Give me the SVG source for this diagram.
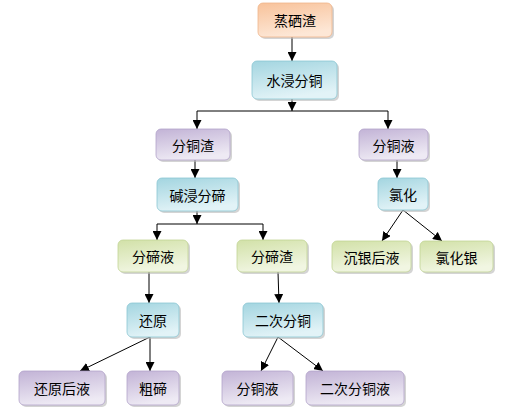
<svg xmlns="http://www.w3.org/2000/svg" width="509" height="414" viewBox="0 0 509 414">
<defs>
<linearGradient id="gO" x1="0" y1="0" x2="0.3" y2="1"><stop offset="0" stop-color="#f8c29a"/><stop offset="1" stop-color="#fde7d6"/></linearGradient>
<linearGradient id="gB" x1="0" y1="0" x2="0.3" y2="1"><stop offset="0" stop-color="#a3d5e0"/><stop offset="1" stop-color="#e2f3f7"/></linearGradient>
<linearGradient id="gP" x1="0" y1="0" x2="0.3" y2="1"><stop offset="0" stop-color="#c2b3d6"/><stop offset="1" stop-color="#eeeaf4"/></linearGradient>
<linearGradient id="gG" x1="0" y1="0" x2="0.3" y2="1"><stop offset="0" stop-color="#d2e1a8"/><stop offset="1" stop-color="#f1f6e2"/></linearGradient>
<marker id="ah" viewBox="0 0 10 10" refX="10" refY="5" markerWidth="9" markerHeight="9" markerUnits="userSpaceOnUse" orient="auto"><path d="M0,0 L10,5 L0,10 z" fill="#000"/></marker>
<style>
.sh{fill:#b8b8b8;opacity:0.6}
.o{fill:url(#gO);stroke:#f0b58a;stroke-width:0.8}
.b{fill:url(#gB);stroke:#8cc6d3;stroke-width:0.8}
.p{fill:url(#gP);stroke:#b3a3ca;stroke-width:0.8}
.g{fill:url(#gG);stroke:#c2d496;stroke-width:0.8}
text{font-family:"Noto Sans CJK SC","Noto Sans CJK JP",sans-serif;font-size:14px;fill:#000;text-anchor:middle;dominant-baseline:central}
.c{stroke:#000;stroke-width:1;fill:none}
.ca{stroke:#000;stroke-width:1;fill:none;marker-end:url(#ah)}
</style>
</defs>
<g id="connectors">
<line class="ca" x1="292" y1="37" x2="292" y2="61"/>
<line class="ca" x1="292" y1="99" x2="292" y2="111"/>
<line class="c" x1="197" y1="111" x2="388" y2="111"/>
<line class="ca" x1="197" y1="111" x2="197" y2="129"/>
<line class="ca" x1="388" y1="111" x2="388" y2="129"/>
<line class="ca" x1="195" y1="160" x2="195" y2="178"/>
<line class="ca" x1="397" y1="160" x2="397" y2="178"/>
<line class="ca" x1="197" y1="211" x2="197" y2="224"/>
<line class="c" x1="157" y1="224" x2="263" y2="224"/>
<line class="ca" x1="157" y1="224" x2="157" y2="240"/>
<line class="ca" x1="263" y1="224" x2="263" y2="240"/>
<line class="ca" x1="149" y1="272" x2="149" y2="303"/>
<line class="ca" x1="278" y1="272" x2="279" y2="303"/>
<line class="ca" x1="403" y1="210" x2="382" y2="241"/>
<line class="ca" x1="403" y1="210" x2="442" y2="241"/>
<line class="ca" x1="150" y1="337" x2="80" y2="371"/>
<line class="ca" x1="150" y1="337" x2="150" y2="371"/>
<line class="ca" x1="278" y1="337" x2="261" y2="371"/>
<line class="ca" x1="278" y1="337" x2="323" y2="371"/>
</g>
<g id="n1"><rect class="sh" x="260" y="5" width="74" height="34" rx="5"/><rect class="o" x="258" y="3" width="74" height="34" rx="5"/><text x="295" y="20">蒸硒渣</text></g>
<g id="n2"><rect class="sh" x="254" y="63" width="85" height="38" rx="5"/><rect class="b" x="252" y="61" width="85" height="38" rx="5"/><text x="294.5" y="80">水浸分铜</text></g>
<g id="n3"><rect class="sh" x="158" y="131" width="74" height="31" rx="5"/><rect class="p" x="156" y="129" width="74" height="31" rx="5"/><text x="193" y="144.5">分铜渣</text></g>
<g id="n4"><rect class="sh" x="361" y="131" width="69" height="31" rx="5"/><rect class="p" x="359" y="129" width="69" height="31" rx="5"/><text x="393.5" y="144.5">分铜液</text></g>
<g id="n5"><rect class="sh" x="159" y="180" width="81" height="33" rx="5"/><rect class="b" x="157" y="178" width="81" height="33" rx="5"/><text x="197.5" y="194.5">碱浸分碲</text></g>
<g id="n6"><rect class="sh" x="380" y="180" width="50" height="32" rx="5"/><rect class="b" x="378" y="178" width="50" height="32" rx="5"/><text x="403" y="194">氯化</text></g>
<g id="n7"><rect class="sh" x="120" y="242" width="70" height="32" rx="5"/><rect class="g" x="118" y="240" width="70" height="32" rx="5"/><text x="153" y="256">分碲液</text></g>
<g id="n8"><rect class="sh" x="239" y="242" width="70" height="32" rx="5"/><rect class="g" x="237" y="240" width="70" height="32" rx="5"/><text x="272" y="256">分碲渣</text></g>
<g id="n9"><rect class="sh" x="334" y="243" width="79" height="31" rx="5"/><rect class="g" x="332" y="241" width="79" height="31" rx="5"/><text x="371.5" y="256.5">沉银后液</text></g>
<g id="n10"><rect class="sh" x="422" y="243" width="73" height="31" rx="5"/><rect class="g" x="420" y="241" width="73" height="31" rx="5"/><text x="456.5" y="256.5">氯化银</text></g>
<g id="n11"><rect class="sh" x="129" y="305" width="52" height="34" rx="5"/><rect class="b" x="127" y="303" width="52" height="34" rx="5"/><text x="153" y="320">还原</text></g>
<g id="n12"><rect class="sh" x="245" y="305" width="80" height="34" rx="5"/><rect class="b" x="243" y="303" width="80" height="34" rx="5"/><text x="283" y="320">二次分铜</text></g>
<g id="n13"><rect class="sh" x="21" y="373" width="86" height="34" rx="5"/><rect class="p" x="19" y="371" width="86" height="34" rx="5"/><text x="62" y="388">还原后液</text></g>
<g id="n14"><rect class="sh" x="129" y="373" width="52" height="34" rx="5"/><rect class="p" x="127" y="371" width="52" height="34" rx="5"/><text x="153" y="388">粗碲</text></g>
<g id="n15"><rect class="sh" x="224" y="373" width="71" height="34" rx="5"/><rect class="p" x="222" y="371" width="71" height="34" rx="5"/><text x="257.5" y="388">分铜液</text></g>
<g id="n16"><rect class="sh" x="308" y="373" width="98" height="34" rx="5"/><rect class="p" x="306" y="371" width="98" height="34" rx="5"/><text x="355" y="388">二次分铜液</text></g>
</svg>
